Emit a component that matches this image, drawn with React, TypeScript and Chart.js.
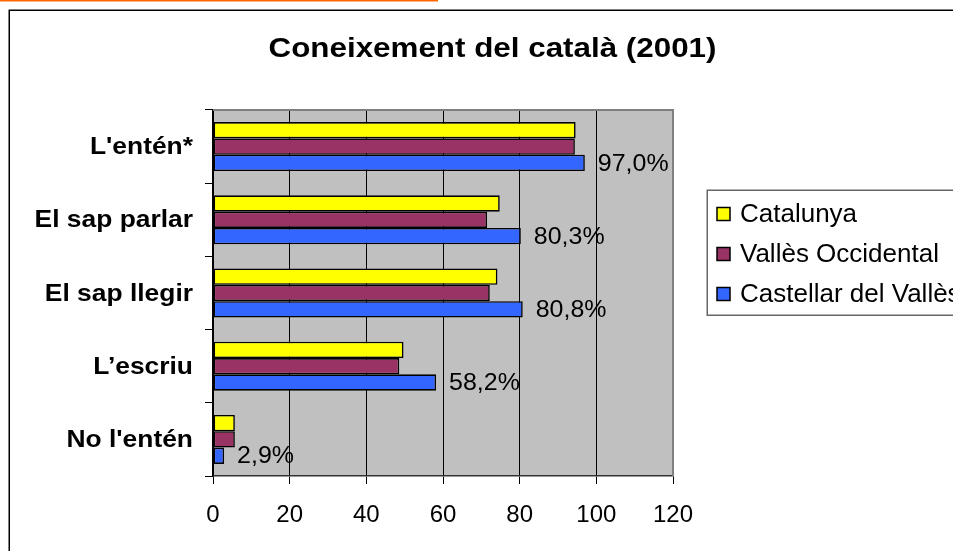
import React, { useEffect, useRef } from "react";
import { Chart, registerables } from "chart.js";

Chart.register(...registerables);

// ---- data ----
const chartTitle = "Coneixement del català (2001)";
const categories = ["L'entén*", "El sap parlar", "El sap llegir", "L’escriu", "No l'entén"];
const seriesNames = ["Catalunya", "Vallès Occidental", "Castellar del Vallès"];
const catalunya = [94.6, 74.8, 74.2, 49.7, 5.7];
const vallesOccidental = [94.4, 71.5, 72.2, 48.6, 5.7];
const castellar = [97.0, 80.3, 80.8, 58.2, 2.9];
const seriesColors = ["#FFFF00", "#993366", "#3366FF"];
const xTicks = [0, 20, 40, 60, 80, 100, 120];
const labelledSeries = 2; // values printed next to Castellar bars

const FONT = "'Liberation Sans', Arial, Helvetica, sans-serif";

function drawText(ctx: CanvasRenderingContext2D, txt: string, x: number, y: number, align: CanvasTextAlign, sx: number) {
  ctx.save();
  ctx.translate(x, y);
  ctx.scale(sx, 1);
  ctx.textAlign = align;
  ctx.fillText(txt, 0, 0);
  ctx.restore();
}

const decorPlugin = {
  id: "decor",
  beforeDraw(chart: any) {
    const { ctx, chartArea: a } = chart;
    ctx.save();
    ctx.fillStyle = "#ffffff";
    ctx.fillRect(0, 0, chart.width, chart.height);
    // orange rule at the very top
    ctx.fillStyle = "#FF6600";
    ctx.fillRect(0, 0, 438, 1.5);
    // outer frame (continues past the visible edge)
    ctx.strokeStyle = "#000000";
    ctx.lineWidth = 1.5;
    ctx.strokeRect(9.25, 10.25, 3000, 3000);
    // plot background
    ctx.fillStyle = "#C0C0C0";
    ctx.fillRect(a.left, a.top, a.right - a.left, a.bottom - a.top);
    // title
    ctx.fillStyle = "#000000";
    ctx.font = `bold 28px ${FONT}`;
    ctx.textBaseline = "alphabetic";
    drawText(ctx, chartTitle, 492.5, 57, "center", 1.12);
    ctx.restore();
  },
  afterDatasetsDraw(chart: any) {
    const { ctx } = chart;
    const meta = chart.getDatasetMeta(labelledSeries);
    const values = chart.data.datasets[labelledSeries].data as number[];
    ctx.save();
    ctx.fillStyle = "#000000";
    ctx.font = `24px ${FONT}`;
    ctx.textBaseline = "middle";
    meta.data.forEach((el: any, i: number) => {
      const txt = values[i].toFixed(1).replace(".", ",") + "%";
      drawText(ctx, txt, el.x + 13, el.y + 1, "left", 1.04);
    });
    ctx.restore();
  },
  afterDraw(chart: any) {
    const { ctx, chartArea: a } = chart;
    ctx.save();
    // plot border (top / right)
    ctx.strokeStyle = "#808080";
    ctx.lineWidth = 2;
    ctx.beginPath();
    ctx.moveTo(a.left, a.top);
    ctx.lineTo(a.right, a.top);
    ctx.lineTo(a.right, a.bottom);
    ctx.stroke();

    // category labels
    const yScale = chart.scales.y;
    ctx.fillStyle = "#000000";
    ctx.font = `bold 24px ${FONT}`;
    ctx.textBaseline = "middle";
    (chart.data.labels as string[]).forEach((lab, i) => {
      drawText(ctx, lab, 193, yScale.getPixelForTick(i) + 1, "right", 1.1);
    });

    // legend
    const lx = 707, ly = 190;
    ctx.strokeStyle = "#666666";
    ctx.lineWidth = 1.5;
    ctx.strokeRect(lx + 0.25, ly + 0.25, 600, 125);
    ctx.font = `25px ${FONT}`;
    chart.data.datasets.forEach((ds: any, i: number) => {
      const cy = 214 + i * 40;
      ctx.fillStyle = ds.backgroundColor;
      ctx.fillRect(717, cy - 6.5, 13, 13);
      ctx.strokeStyle = "#000000";
      ctx.lineWidth = 1.5;
      ctx.strokeRect(717, cy - 6.5, 13, 13);
      ctx.fillStyle = "#000000";
      drawText(ctx, ds.label, 740, cy + 1, "left", 1.04);
    });
    ctx.restore();
  },
};

export default function App() {
  const ref = useRef<HTMLCanvasElement>(null);
  useEffect(() => {
    document.body.style.margin = "0";
    document.body.style.overflow = "hidden";
    const seriesData = [catalunya, vallesOccidental, castellar];
    const chart = new Chart(ref.current as HTMLCanvasElement, {
      type: "bar",
      data: {
        labels: categories,
        datasets: seriesNames.map((name, i) => ({
          label: name,
          data: seriesData[i],
          backgroundColor: seriesColors[i],
          borderColor: "#000000",
          borderWidth: 1.6,
          borderSkipped: false,
          barPercentage: 1,
          categoryPercentage: 0.67,
        })),
      },
      options: {
        indexAxis: "y",
        responsive: false,
        animation: false,
        devicePixelRatio: 1,
        layout: { padding: { left: 0, top: 110, right: 280, bottom: 0 } },
        plugins: {
          legend: { display: false },
          title: { display: false },
          tooltip: { enabled: false },
        },
        scales: {
          x: {
            type: "linear",
            min: 0,
            max: 120,
            afterBuildTicks: (s: any) => {
              s.ticks = xTicks.map((v) => ({ value: v }));
            },
            afterFit: (s: any) => {
              s.height = 75;
            },
            grid: {
              color: "#000000",
              lineWidth: 1,
              drawTicks: true,
              tickLength: 8,
              tickColor: "#000000",
            },
            border: { display: true, color: "#333333", width: 1.5 },
            ticks: {
              color: "#000000",
              font: { family: FONT, size: 24 },
              padding: 17,
              maxRotation: 0,
              autoSkip: false,
            },
          },
          y: {
            type: "category",
            afterFit: (s: any) => {
              s.width = 213;
            },
            grid: {
              display: true,
              offset: true,
              drawOnChartArea: false,
              drawTicks: true,
              tickLength: 8,
              tickColor: "#000000",
              color: "#000000",
            },
            border: { display: true, color: "#000000", width: 1.5 },
            ticks: { display: false },
          },
        },
      },
      plugins: [decorPlugin],
    } as any);
    return () => chart.destroy();
  }, []);
  return (
    <canvas
      ref={ref}
      width={953}
      height={551}
      style={{ display: "block", width: "953px", height: "551px" }}
    />
  );
}
